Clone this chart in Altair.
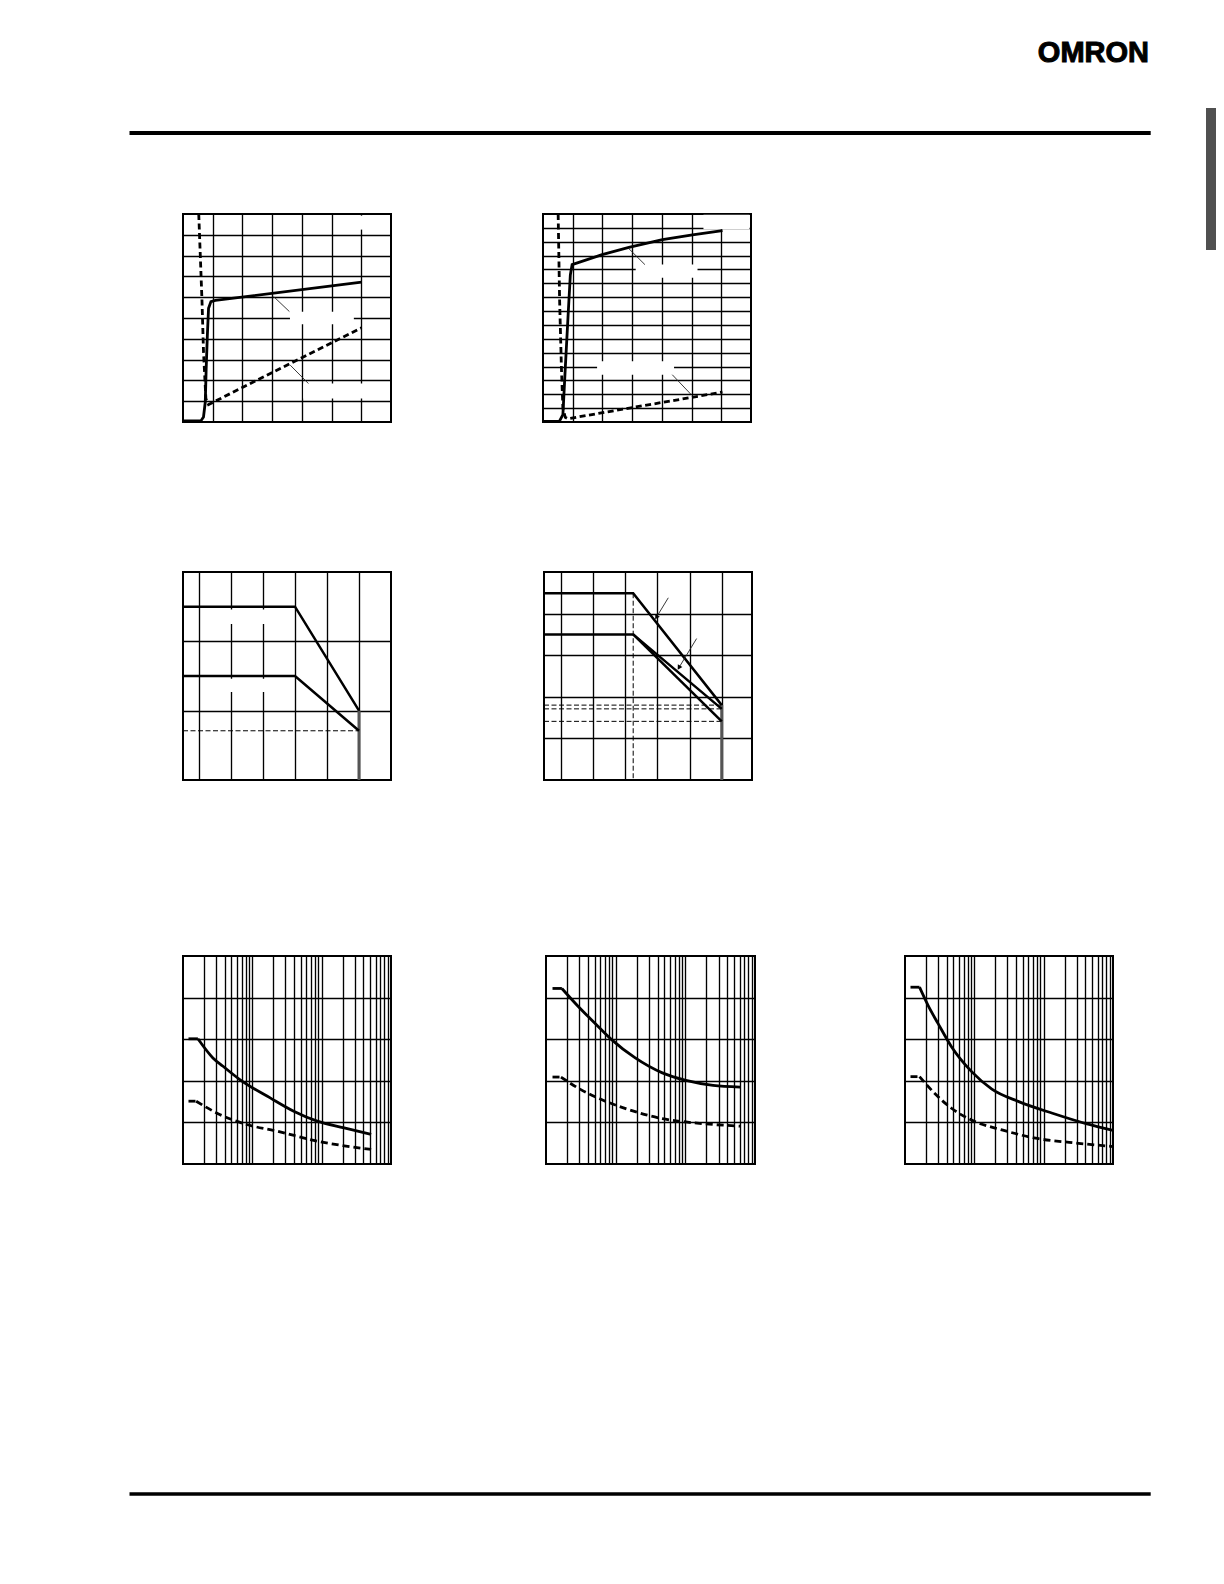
import altair as alt
import pandas as pd

# ---------------- data ----------------
# Panel A (top left)  x grid 0..7, y grid 0..10
A_solid_x = [0.0, 0.6, 0.69, 0.75, 0.78, 0.82, 0.86, 0.94, 1.09, 6.01]
A_solid_y = [0.05, 0.05, 0.24, 0.96, 2.57, 4.18, 5.47, 5.79, 5.85, 6.72]
A_dash_x = [0.53, 0.64, 0.69, 0.77, 0.86, 6.01]
A_dash_y = [10.0, 5.79, 3.38, 1.13, 0.84, 4.53]
A_box = dict(x0=[3.6, 4.05, 5.8], x1=[5.75, 6.18, 6.3], y0=[4.7, 1.13, 9.25], y1=[5.3, 1.85, 9.92])
A_lead = dict(x0=[3.05, 3.61], y0=[6.03, 2.73], x1=[3.58, 4.22], y1=[5.31, 1.85])

# Panel B (top middle) x grid 0..7, y grid 0..15
B_solid_x = [0.0, 0.55, 0.67, 0.75, 0.84, 0.92, 0.98, 1.99, 2.89, 4.02, 5.03, 6.04]
B_solid_y = [0.05, 0.05, 0.53, 3.9, 7.5, 10.6, 11.35, 12.07, 12.6, 13.15, 13.5, 13.8]
B_dash_x = [0.51, 0.56, 0.62, 0.67, 0.75, 0.84, 6.04]
B_dash_y = [15.0, 8.7, 3.9, 1.0, 0.34, 0.24, 2.16]
B_box = dict(x0=[3.12, 1.82, 5.4], x1=[5.2, 4.41, 6.95], y0=[10.4, 3.41, 13.9], y1=[11.35, 4.38, 14.95])
B_lead = dict(x0=[2.89, 4.35], y0=[12.5, 3.41], x1=[3.43, 4.99], y1=[11.35, 1.97])

# Panel C (middle left) x grid -0.5..6, y grid 0..3
C_up_x = [-0.5, 3.0, 5.0]
C_up_y = [2.5, 2.5, 1.0]
C_lo_x = [-0.5, 3.0, 5.0]
C_lo_y = [1.5, 1.5, 0.71]
C_dash = dict(x0=[-0.5], y0=[0.71], x1=[5.0], y1=[0.71])
C_vert = dict(x0=[5.0], y0=[1.0], x1=[5.0], y1=[0.0])
C_box = dict(x0=[0.9, 0.9], x1=[2.1, 2.1], y0=[2.25, 1.27], y1=[2.46, 1.46])

# Panel D (middle middle) x grid -0.52..5.94, y grid 0..5
D_up_x = [-0.52, 2.25, 5.0]
D_up_y = [4.49, 4.49, 1.80]
D_mid_x = [-0.52, 2.25, 5.0]
D_mid_y = [3.5, 3.5, 1.71]
D_lo_x = [2.25, 5.0]
D_lo_y = [3.5, 1.41]
D_dash = dict(x0=[2.25, -0.52, -0.52, -0.52], y0=[4.49, 1.80, 1.71, 1.41],
              x1=[2.25, 5.0, 5.0, 5.0], y1=[0.0, 1.80, 1.71, 1.41])
D_vert = dict(x0=[5.0], y0=[1.80], x1=[5.0], y1=[0.0])
D_arrow = dict(x0=[3.34, 4.22], y0=[4.38, 3.40], x1=[2.97, 3.67], y1=[3.91, 2.70])

# Panels E, F, G (bottom row) log x 1..1000, y grid 0..5
E_solid_x = [1.2, 1.64, 2.70, 3.78, 6.6, 18.1, 39.5, 86.5, 211, 517]
E_solid_y = [3.01, 3.01, 2.55, 2.35, 2.03, 1.59, 1.27, 1.03, 0.87, 0.71]
E_dash_x = [1.2, 1.55, 3.38, 8.27, 22.6, 86.5, 517]
E_dash_y = [1.51, 1.51, 1.19, 0.95, 0.79, 0.55, 0.35]

F_solid_x = [1.24, 1.69, 2.86, 5.0, 8.74, 19.1, 46.8, 102, 250, 611]
F_solid_y = [4.22, 4.22, 3.80, 3.39, 2.99, 2.55, 2.19, 2.01, 1.89, 1.85]
F_dash_x = [1.24, 1.64, 2.86, 6.25, 15.3, 46.8, 102, 250, 611]
F_dash_y = [2.09, 2.09, 1.83, 1.55, 1.31, 1.09, 1.01, 0.95, 0.91]

G_solid_x = [1.2, 1.62, 2.14, 2.99, 4.68, 9.14, 17.9, 43.7, 134, 409, 1000]
G_solid_y = [4.25, 4.25, 3.82, 3.38, 2.82, 2.22, 1.80, 1.50, 1.22, 0.97, 0.81]
G_dash_x = [1.2, 1.62, 2.67, 4.68, 10.2, 25, 76.4, 234, 1000]
G_dash_y = [2.10, 2.10, 1.70, 1.34, 1.02, 0.82, 0.62, 0.52, 0.42]

LOG_GRID = [m * 10 ** k for k in range(3) for m in range(1, 10)][1:]

BRAND = "OMRON"

GRID_W = 1.35
CURVE_W = 2.8

# ---------------- helpers ----------------
def gaxis(vals):
    return alt.Axis(values=vals, grid=True, labels=False, ticks=False, domain=False,
                    title=None, gridColor="black", gridWidth=GRID_W, gridOpacity=1)


def make_scales(xdom, ydom, xv, yv, xlog=False):
    xs = alt.Scale(type="log", domain=xdom, nice=False) if xlog else alt.Scale(domain=xdom, nice=False, zero=False)
    ys = alt.Scale(domain=ydom, nice=False, zero=False)
    return dict(x=xs, y=ys, xv=xv, yv=yv)


def X(f, s):
    return alt.X(f, type="quantitative", scale=s["x"], axis=gaxis(s["xv"]))


def Y(f, s):
    return alt.Y(f, type="quantitative", scale=s["y"], axis=gaxis(s["yv"]))


def line(xs, ys, s, width=CURVE_W, dash=None, interp="linear", color="black"):
    df = pd.DataFrame({"x": xs, "y": ys, "i": list(range(len(xs)))})
    mk = dict(color=color, strokeWidth=width, interpolate=interp)
    if dash is not None:
        mk["strokeDash"] = dash
    return alt.Chart(df).mark_line(**mk).encode(x=X("x", s), y=Y("y", s), order="i:Q")


def boxes(d, s):
    return alt.Chart(pd.DataFrame(d)).mark_rect(color="white").encode(
        x=X("x0", s), x2=alt.X2("x1"), y=Y("y0", s), y2=alt.Y2("y1"))


def segs(d, s, width=0.9, color="#222", dash=None):
    mk = dict(color=color, strokeWidth=width)
    if dash is not None:
        mk["strokeDash"] = dash
    return alt.Chart(pd.DataFrame(d)).mark_rule(**mk).encode(
        x=X("x0", s), x2=alt.X2("x1"), y=Y("y0", s), y2=alt.Y2("y1"))


def heads(d, s, angle):
    df = pd.DataFrame({"x": d["x1"], "y": d["y1"]})
    return alt.Chart(df).mark_point(shape="triangle-up", filled=True, size=28, color="black",
                                    opacity=1, angle=angle).encode(x=X("x", s), y=Y("y", s))


def panel(layers, w=208, h=208):
    return alt.layer(*layers).properties(
        width=w, height=h, view=alt.ViewBackground(stroke="black", strokeWidth=2))


def spacer(w, h):
    return alt.Chart(pd.DataFrame({"s": [0]})).mark_point(opacity=0, size=1).properties(width=w, height=h)


def log_curve(xs, ys, s, dash=None):
    return [line(xs[:2], ys[:2], s, dash=dash), line(xs[1:], ys[1:], s, dash=dash, interp="monotone")]


# ---------------- panels ----------------
sA = make_scales([0, 7], [0, 10], list(range(1, 7)), list(range(1, 10)))
pA = panel([boxes(A_box, sA),
            line(A_solid_x, A_solid_y, sA),
            line(A_dash_x, A_dash_y, sA, dash=[6, 3.5]),
            segs(A_lead, sA)])

sB = make_scales([0, 7], [0, 15], list(range(1, 7)), list(range(1, 15)))
pB = panel([boxes(B_box, sB),
            line(B_solid_x, B_solid_y, sB),
            line(B_dash_x, B_dash_y, sB, dash=[6, 3.5]),
            segs(B_lead, sB)])

sC = make_scales([-0.5, 6], [0, 3], list(range(0, 6)), [1, 2])
pC = panel([boxes(C_box, sC),
            segs(C_dash, sC, width=1, color="black", dash=[5, 2.5]),
            segs(C_vert, sC, width=3, color="#555"),
            line(C_up_x, C_up_y, sC, width=2.5),
            line(C_lo_x, C_lo_y, sC, width=2.5)])

sD = make_scales([-0.52, 5.94], [0, 5], list(range(0, 6)), [1, 2, 3, 4])
pD = panel([segs(D_dash, sD, width=1, color="black", dash=[5, 2.5]),
            segs(D_vert, sD, width=3, color="#555"),
            line(D_up_x, D_up_y, sD, width=2.5),
            line(D_mid_x, D_mid_y, sD, width=2.5),
            line(D_lo_x, D_lo_y, sD, width=2.5),
            segs(D_arrow, sD, width=0.9),
            heads(D_arrow, sD, 211)])

sE = make_scales([1, 1000], [0, 5], LOG_GRID, [1, 2, 3, 4], xlog=True)
pE = panel(log_curve(E_solid_x, E_solid_y, sE) + log_curve(E_dash_x, E_dash_y, sE, dash=[7, 4]))

sF = make_scales([1, 1000], [0, 5], LOG_GRID, [1, 2, 3, 4], xlog=True)
pF = panel(log_curve(F_solid_x, F_solid_y, sF) + log_curve(F_dash_x, F_dash_y, sF, dash=[7, 4]), w=209)

sG = make_scales([1, 1000], [0, 5], LOG_GRID, [1, 2, 3, 4], xlog=True)
pG = panel(log_curve(G_solid_x, G_solid_y, sG) + log_curve(G_dash_x, G_dash_y, sG, dash=[7, 4]))

# ---------------- page furniture ----------------
one = pd.DataFrame({"k": [0]})
logo = alt.Chart(one).mark_text(text=BRAND, align="right", baseline="alphabetic", fontSize=29,
                                font="Liberation Sans", fontWeight="bold", color="black",
                                stroke="black", strokeWidth=1.0).encode(
    x=alt.value(1141), y=alt.value(54))
top_rule = alt.Chart(one).mark_rule(color="black", strokeWidth=4).encode(
    x=alt.value(121.5), x2=alt.value(1142.7), y=alt.value(125))
header = alt.layer(top_rule, logo).properties(width=1198, height=199)

footer = alt.Chart(one).mark_rule(color="black", strokeWidth=3.5).encode(
    x=alt.value(121.5), x2=alt.value(1142.7), y=alt.value(329)).properties(width=1198, height=329)

tab = alt.Chart(one).mark_rect(color="#505050").encode(
    x=alt.value(0), x2=alt.value(10), y=alt.value(100), y2=alt.value(242)).properties(width=10, height=242)

row1 = alt.hconcat(spacer(174.5, 1), pA, spacer(151.5, 1), pB, spacing=0, bounds="flush")
row2 = alt.hconcat(spacer(175, 1), pC, spacer(152.5, 1), pD, spacing=0, bounds="flush")
row3 = alt.hconcat(spacer(174.5, 1), pE, spacer(154.5, 1), pF, spacer(149.5, 1), pG,
                   spacing=0, bounds="flush")

left = alt.vconcat(header, row1, spacer(1, 143), row2, spacer(1, 172), row3, footer, spacing=0)

chart = alt.hconcat(left, tab, spacing=0).properties(padding=0).configure_view(
    stroke="transparent", strokeWidth=0)

chart.save("out.html", embed_options={"renderer": "svg", "actions": False})
